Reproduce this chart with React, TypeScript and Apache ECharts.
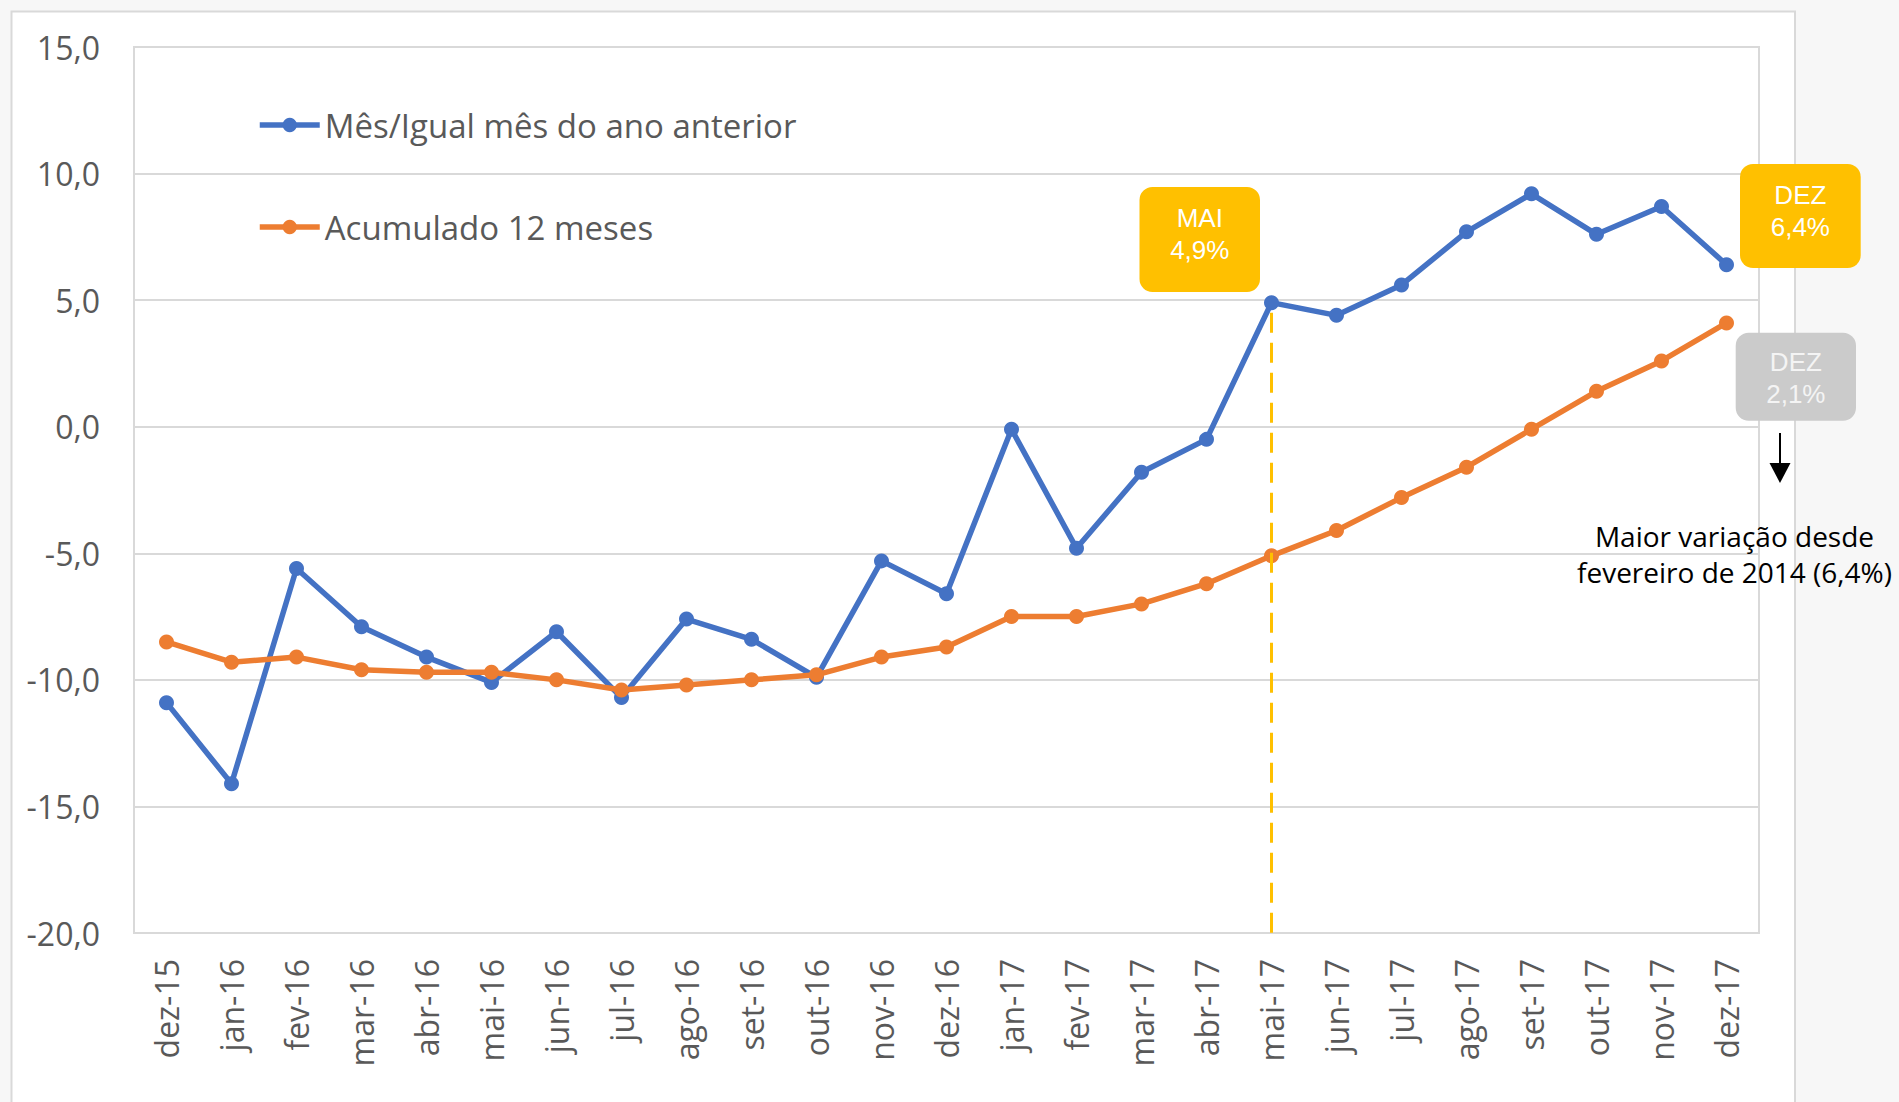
import React, { useEffect, useRef } from "react";
import * as echarts from "echarts";

const categories = [
  "dez-15", "jan-16", "fev-16", "mar-16", "abr-16", "mai-16", "jun-16", "jul-16",
  "ago-16", "set-16", "out-16", "nov-16", "dez-16", "jan-17", "fev-17", "mar-17",
  "abr-17", "mai-17", "jun-17", "jul-17", "ago-17", "set-17", "out-17", "nov-17", "dez-17",
];

const mesIgualMes = [
  -10.9, -14.1, -5.6, -7.9, -9.1, -10.1, -8.1, -10.7, -7.6, -8.4, -9.9, -5.3, -6.6,
  -0.1, -4.8, -1.8, -0.5, 4.9, 4.4, 5.6, 7.7, 9.2, 7.6, 8.7, 6.4,
];

const acumulado12 = [
  -8.5, -9.3, -9.1, -9.6, -9.7, -9.7, -10.0, -10.4, -10.2, -10.0, -9.8, -9.1, -8.7,
  -7.5, -7.5, -7.0, -6.2, -5.1, -4.1, -2.8, -1.6, -0.1, 1.4, 2.6, 4.1,
];

const seriesNames = ["Mês/Igual mês do ano anterior", "Acumulado 12 meses"];
const yMin = -20;
const yMax = 15;
const yStep = 5;
const markerCategory = "mai-17";
const markerTop = 4.5;

const boxMai = ["MAI", "4,9%"];
const boxDezYellow = ["DEZ", "6,4%"];
const boxDezGray = ["DEZ", "2,1%"];
const noteLines = ["Maior variação desde", "fevereiro de 2014 (6,4%)"];

const BLUE = "#4472C4";
const ORANGE = "#ED7D31";
const YELLOW = "#FFC000";
const GRID = "#D9D9D9";
const AXIS_TEXT = "#595959";

function box(
  x: number, y: number, w: number, h: number, fill: string,
  lines: string[], textFill: string, textY: number
) {
  return {
    type: "group",
    z: 100,
    children: [
      { type: "rect", z: 100, shape: { x, y, width: w, height: h, r: 13 }, style: { fill } },
      {
        type: "text",
        z: 101,
        x: x + w / 2,
        y: textY,
        style: {
          text: lines.join("\n"),
          fill: textFill,
          font: '26px "Liberation Sans", Arial, sans-serif',
          lineHeight: 32,
          align: "center",
          verticalAlign: "middle",
        },
      },
    ],
  };
}

export default function App() {
  const ref = useRef<HTMLDivElement>(null);

  useEffect(() => {
    if (!ref.current) return;
    const chart = echarts.init(ref.current, null, { renderer: "svg" });
    const option: any = {
      animation: false,
      backgroundColor: "#F7F7F7",
      grid: {
        left: 134,
        top: 47,
        right: 140,
        bottom: 169,
        show: true,
        backgroundColor: "#FFFFFF",
        borderColor: GRID,
        borderWidth: 2,
      },
      legend: {
        data: seriesNames,
        orient: "vertical",
        left: 252,
        top: 100,
        itemWidth: 60,
        itemHeight: 18,
        itemGap: 62,
        lineStyle: { width: 5.5 },
        textStyle: {
          fontFamily: '"Open Sans", sans-serif',
          fontSize: 33,
          color: AXIS_TEXT,
          lineHeight: 40,
        },
      },
      xAxis: {
        type: "category",
        data: categories,
        boundaryGap: true,
        axisLine: { show: false },
        axisTick: { show: false },
        splitLine: { show: false },
        axisLabel: {
          rotate: 90,
          margin: 26,
          interval: 0,
          color: AXIS_TEXT,
          fontFamily: '"Open Sans", sans-serif',
          fontSize: 32,
        },
      },
      yAxis: {
        type: "value",
        min: yMin,
        max: yMax,
        interval: yStep,
        axisLine: { show: false },
        axisTick: { show: false },
        splitLine: { lineStyle: { color: GRID, width: 2 } },
        axisLabel: {
          margin: 34,
          color: AXIS_TEXT,
          fontFamily: '"Open Sans", sans-serif',
          fontSize: 32,
          formatter: (v: number) => v.toFixed(1).replace(".", ","),
        },
      },
      series: [
        {
          name: "marker",
          type: "line",
          data: [],
          z: 1,
          silent: true,
          markLine: {
            silent: true,
            symbol: ["none", "none"],
            label: { show: false },
            lineStyle: { color: YELLOW, width: 3, type: [20, 10] },
            data: [[{ coord: [markerCategory, markerTop] }, { coord: [markerCategory, yMin] }]],
          },
        },
        {
          name: seriesNames[0],
          type: "line",
          data: mesIgualMes,
          symbol: "circle",
          symbolSize: 15,
          z: 3,
          lineStyle: { color: BLUE, width: 5.5 },
          itemStyle: { color: BLUE },
        },
        {
          name: seriesNames[1],
          type: "line",
          data: acumulado12,
          symbol: "circle",
          symbolSize: 15,
          z: 4,
          lineStyle: { color: ORANGE, width: 5.5 },
          itemStyle: { color: ORANGE },
        },
      ],
      graphic: [
        {
          type: "rect",
          z: -10,
          silent: true,
          shape: { x: 11.5, y: 11.5, width: 1783.5, height: 1100 },
          style: { fill: "#FFFFFF", stroke: GRID, lineWidth: 2 },
        },
        box(1139.5, 187, 120.5, 105, YELLOW, boxMai, "#FFFFFF", 233.5),
        box(1740, 164, 120.7, 104, YELLOW, boxDezYellow, "#FFFFFF", 210.5),
        box(1735.7, 332.7, 120.3, 88, "#CBCBCB", boxDezGray, "#F4F4F4", 377.5),
        {
          type: "line",
          z: 100,
          shape: { x1: 1780, y1: 433, x2: 1780, y2: 465 },
          style: { stroke: "#000000", lineWidth: 2 },
        },
        {
          type: "polygon",
          z: 100,
          shape: { points: [[1769.5, 463], [1790.5, 463], [1780, 483]] },
          style: { fill: "#000000" },
        },
        {
          type: "text",
          z: 100,
          x: 1734.5,
          y: 554,
          style: {
            text: noteLines.join("\n"),
            fill: "#000000",
            font: '28px "Open Sans", sans-serif',
            lineHeight: 36,
            align: "center",
            verticalAlign: "middle",
          },
        },
      ],
    };
    chart.setOption(option);
    return () => chart.dispose();
  }, []);

  return (
    <div
      ref={ref}
      style={{ position: "absolute", left: 0, top: 0, width: 1899, height: 1102 }}
    />
  );
}
